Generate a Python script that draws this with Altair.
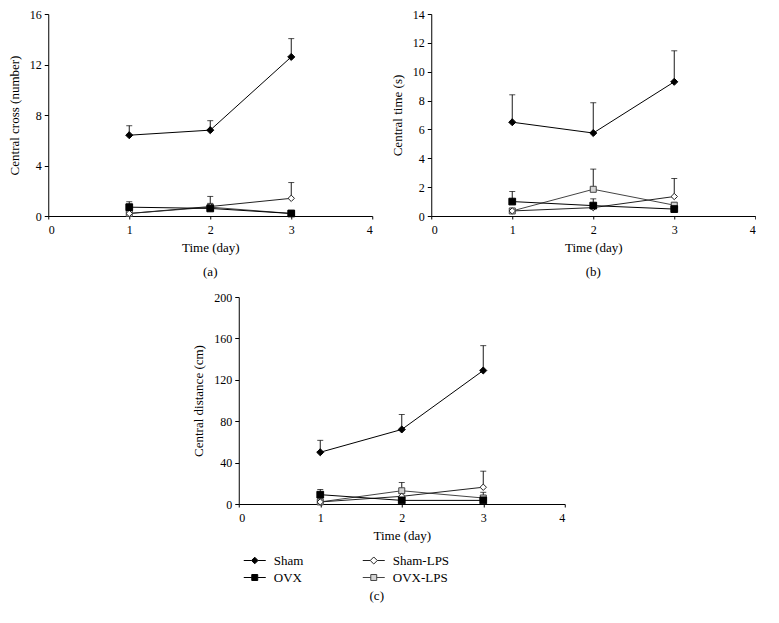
import altair as alt
import pandas as pd

FONT = "Liberation Serif"

DAYS = [1, 2, 3]
SERIES = ["Sham", "OVX", "Sham-LPS", "OVX-LPS"]

# Panel (a): central cross (number)
CROSS_MEAN = {"Sham": [6.4, 6.8, 12.6], "OVX": [0.7, 0.6, 0.2],
              "Sham-LPS": [0.2, 0.75, 1.4], "OVX-LPS": [0.2, 0.7, 0.2]}
CROSS_ERR = {"Sham": [0.75, 0.75, 1.45], "OVX": [0.43, 0.3, 0.15],
             "Sham-LPS": [0.15, 0.8, 1.25], "OVX-LPS": [0.15, 0.3, 0.15]}

# Panel (b): central time (s)
TIME_MEAN = {"Sham": [6.5, 5.75, 9.3], "OVX": [1.0, 0.72, 0.48],
             "Sham-LPS": [0.35, 0.58, 1.35], "OVX-LPS": [0.35, 1.85, 0.75]}
TIME_ERR = {"Sham": [1.9, 2.1, 2.15], "OVX": [0.7, 0.47, 0.15],
            "Sham-LPS": [0.15, 0.2, 1.25], "OVX-LPS": [0.15, 1.4, 0.15]}

# Panel (c): central distance (cm)
DIST_MEAN = {"Sham": [50, 72, 129], "OVX": [9, 3.5, 3.5],
             "Sham-LPS": [2, 7.4, 16.2], "OVX-LPS": [2, 12.8, 5.8]}
DIST_ERR = {"Sham": [11.5, 14.5, 24], "OVX": [5, 2, 2],
            "Sham-LPS": [1, 3, 15.5], "OVX-LPS": [1, 8, 5.5]}

# styles
SHAPES = ["diamond", "square", "diamond", "square"]
FILLS = ["black", "black", "white", "#d4d4d4"]
STROKES = ["black", "black", "black", "#444444"]
LINES = ["black", "black", "#222222", "#444444"]
LEG_PATHS = [
    "M-1,0H-0.3M0.3,0H1M0,-0.3L0.3,0L0,0.3L-0.3,0Z",
    "M-1,0H-0.27M0.27,0H1M-0.27,-0.27H0.27V0.27H-0.27Z",
    "M-1,0H-0.32M0.32,0H1M0,-0.32L0.32,0L0,0.32L-0.32,0Z",
    "M-1,0H-0.27M0.27,0H1M-0.27,-0.27H0.27V0.27H-0.27Z",
]


def long_df(means, errs):
    rows = []
    for s in reversed(SERIES):
        for d, m, e in zip(DAYS, means[s], errs[s]):
            rows.append({"series": s, "day": d, "mean": m, "top": m + e})
    return pd.DataFrame(rows)


AX = dict(domainColor="black", tickColor="black", labelColor="black", titleColor="black",
          labelFont=FONT, titleFont=FONT, labelFontSize=12, titleFontSize=13,
          titleFontWeight="normal", grid=False, domainWidth=1, tickWidth=1)

NOVIEW = alt.ViewBackground(stroke="transparent", strokeWidth=0)


def panel(df, ytitle, ymax, ystep, w, h, label):
    xenc = alt.X("day:Q", title="Time (day)",
                 scale=alt.Scale(domain=[0, 4], nice=False),
                 axis=alt.Axis(values=[0, 1, 2, 3, 4], format="d", tickSize=3,
                               labelPadding=5, titlePadding=6, **AX))
    yaxis = alt.Axis(values=list(range(0, ymax + 1, ystep)), format="d", tickSize=4,
                     labelPadding=3, titlePadding=8, **AX)
    yscale = alt.Scale(domain=[0, ymax], nice=False)

    def Y(field):
        return alt.Y(field, title=ytitle, scale=yscale, axis=yaxis)

    base = alt.Chart(df)
    line = base.mark_line(strokeWidth=1).encode(
        x=xenc, y=Y("mean:Q"), detail="series:N",
        stroke=alt.Stroke("series:N", scale=alt.Scale(domain=SERIES, range=LINES), legend=None),
    )
    err = base.mark_rule(color="black", strokeWidth=0.9).encode(
        x=xenc, y=Y("mean:Q"), y2="top:Q")
    cap = base.mark_tick(color="black", orient="horizontal", size=6, thickness=1).encode(
        x=xenc, y=Y("top:Q"))
    pts = base.mark_point(opacity=1, fillOpacity=1, strokeWidth=1).encode(
        x=xenc, y=Y("mean:Q"),
        shape=alt.Shape("series:N", scale=alt.Scale(domain=SERIES, range=SHAPES), legend=None),
        fill=alt.Fill("series:N", scale=alt.Scale(domain=SERIES, range=FILLS), legend=None),
        stroke=alt.Stroke("series:N", scale=alt.Scale(domain=SERIES, range=STROKES), legend=None),
        size=alt.Size("series:N", scale=alt.Scale(domain=SERIES, range=[50, 36, 50, 36]), legend=None),
    )
    return alt.layer(line, err, cap, pts).properties(
        width=w, height=h, view=NOVIEW,
        title=alt.TitleParams(label, orient="bottom", fontSize=13, fontWeight="normal",
                              font=FONT, offset=12, anchor="middle", color="black"),
    )


a = panel(long_df(CROSS_MEAN, CROSS_ERR), "Central cross (number)", 16, 4, 324, 202, "(a)")
b = panel(long_df(TIME_MEAN, TIME_ERR), "Central time (s)", 14, 2, 324, 202, "(b)")
c = panel(long_df(DIST_MEAN, DIST_ERR), "Central distance (cm)", 200, 40, 326, 207, "")

leg_df = pd.DataFrame({"series": SERIES, "col": [0, 0, 1, 1], "row": [0, 1, 0, 1]})
leg_df["path"] = LEG_PATHS
leg_df["fillc"] = FILLS
leg_df["strokec"] = LINES

lx = alt.X("col:Q", scale=alt.Scale(domain=[0, 1], range=[16, 135]), axis=None)
ly = alt.Y("row:Q", scale=alt.Scale(domain=[0, 1], range=[8.5, 25.5]), axis=None)
leg_sym = alt.Chart(leg_df).mark_point(size=484, opacity=1, fillOpacity=1, strokeWidth=1).encode(
    x=lx, y=ly,
    shape=alt.Shape("path:N", scale=None),
    fill=alt.Fill("fillc:N", scale=None),
    stroke=alt.Stroke("strokec:N", scale=None),
)
leg_txt = alt.Chart(leg_df).mark_text(align="left", baseline="middle", dx=19, fontSize=13,
                                      font=FONT, color="black").encode(
    x=lx, y=ly, text="series:N")
legend = alt.layer(leg_sym, leg_txt).properties(
    width=326, height=34, view=NOVIEW,
    title=alt.TitleParams("(c)", orient="bottom", fontSize=13, fontWeight="normal",
                          font=FONT, offset=4, anchor="middle", dx=-25, color="black"),
)

top = alt.hconcat(a, b, spacing=18).resolve_scale(x="independent", y="independent")
bottom = alt.vconcat(c, legend, spacing=10).resolve_scale(x="independent", y="independent")

chart = alt.vconcat(top, bottom, spacing=12, center=True).resolve_scale(
    x="independent", y="independent"
).properties(padding=0).configure_view(stroke="transparent", strokeWidth=0).configure(font=FONT)

chart.save("out.html", embed_options={"renderer": "svg", "actions": False})
